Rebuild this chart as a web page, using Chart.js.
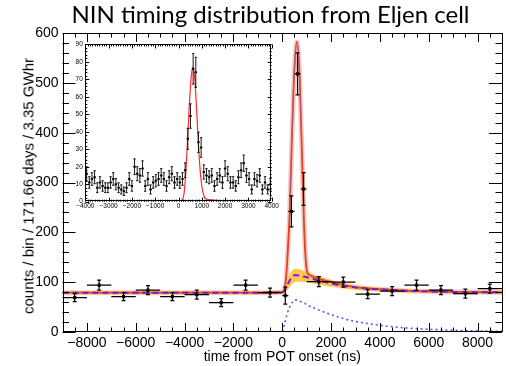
<!DOCTYPE html>
<html>
<head>
<meta charset="utf-8">
<script src="https://cdn.jsdelivr.net/npm/chart.js"></script>
<style>
  html, body { margin: 0; padding: 0; background: #fff; }
  #wrap { position: relative; width: 506px; height: 366px; overflow: hidden; }
  #main { position: absolute; left: 0; top: 0; }
  #inset { position: absolute; left: 66px; top: 38px; }
  #title { position: absolute; left: 0; top: 2px; width: 541px; text-align: center;
           font: 24px/24px Lato, sans-serif; color: #000; white-space: nowrap; }
  #ytitle { position: absolute; left: 28px; top: 186px; white-space: nowrap; color: #000;
            font: 15px/15px "Liberation Sans", sans-serif;
            transform: translate(-50%, -50%) rotate(-90deg); }
</style>
</head>
<body>
<div id="wrap">
  <canvas id="main" width="506" height="366"></canvas>
  <canvas id="inset" width="214" height="178"></canvas>
  <div id="title">NIN timing distribution from Eljen cell</div>
  <div id="ytitle">counts / bin / 171.66 days / 3.35 GWhr</div>
</div>
<script>
// ---- main histogram (ns, counts / bin) ----
const binCenters = [-8500, -7500, -6500, -5500, -4500, -3500, -2500, -1500, -500,
                    125, 375, 625, 875, 1500, 2500, 3500, 4500, 5500, 6500, 7500, 8500];
const binHalfWidths = [500, 500, 500, 500, 500, 500, 500, 500, 500,
                       125, 125, 125, 125, 500, 500, 500, 500, 500, 500, 500, 500];
const counts = [69, 94, 71, 84, 71, 75, 59, 94, 79, 73, 242, 518, 287, 101, 100, 76, 82, 94, 84, 77, 87];
const countErrors = [8, 10, 8, 9, 8, 9, 8, 10, 9, 17, 31, 42, 33, 10, 10, 9, 9, 10, 9, 9, 9];

// ---- fit curves ----
const fitTimes    = [-9000, -1000, 0, 100, 150, 200, 300, 400, 500, 600, 700, 800, 900, 1000,
                     1100, 1200, 1500, 2000, 2500, 3000, 3500, 4000, 5000, 6000, 7000, 8000, 9000];
const fitTotal    = [79, 79, 80, 88, 105, 140, 235, 395, 530, 582, 525, 370, 205, 125,
                     115, 112, 107, 100, 94, 90, 87.5, 86, 83, 81.5, 80.5, 80, 79.5];
const fitDelayed  = [79, 79, 79.5, 84, 89, 94, 103, 110, 114, 114, 113, 112, 111, 110,
                     108.5, 107, 103, 97.5, 92.5, 89.5, 87, 85.5, 83, 81.5, 80.5, 80, 79.5];
const bandLow     = [76, 76, 76.5, 79, 81, 84, 90, 96, 100, 101, 101, 101, 100, 100,
                     99, 98, 95, 91, 87.5, 85, 83, 82, 80, 78.5, 77.5, 77, 76.5];
const bandHigh    = [82, 82, 82.5, 89, 97, 104, 116, 123, 127, 127, 126, 124, 122, 120,
                     118, 116, 111, 104, 97.5, 94, 91, 89, 86, 84.5, 83.5, 83, 82.5];
const delayedOnly = [0, 0, 0, 18, 27, 36, 50, 59, 64, 64, 62, 60, 58, 55,
                     52, 50, 44, 35, 27, 21, 17, 13.5, 8.5, 5.5, 3.5, 2.2, 1.4];

// ---- inset (fine binning) ----
const insetCenters = [-3943, -3829, -3714, -3600, -3486, -3371, -3257, -3143, -3029, -2914,
                      -2800, -2686, -2571, -2457, -2343, -2229, -2114, -2000, -1886, -1771,
                      -1657, -1543, -1429, -1314, -1200, -1086, -971, -857, -743, -629,
                      -514, -400, -286, -171, -57, 57, 171, 286, 400, 514,
                      629, 743, 857, 971, 1086, 1200, 1314, 1429, 1543, 1657,
                      1771, 1886, 2000, 2114, 2229, 2343, 2457, 2571, 2686, 2800,
                      2914, 3029, 3143, 3257, 3371, 3486, 3600, 3714, 3829, 3943];
const insetCounts = [16, 11, 13, 14, 8, 11, 9, 8, 8, 11,
                     13, 10, 8, 7, 6, 8, 13, 9, 20, 16,
                     15, 19, 9, 13, 7, 11, 12, 13, 15, 13,
                     9, 14, 16, 11, 13, 11, 13, 18, 36, 49,
                     76, 74, 34, 31, 17, 15, 14, 15, 9, 13,
                     15, 11, 19, 16, 11, 11, 9, 14, 18, 22,
                     15, 13, 7, 13, 12, 15, 7, 11, 7, 10];
const insetErrors = [4, 3.3, 3.6, 3.7, 2.8, 3.3, 3, 2.8, 2.8, 3.3,
                     3.6, 3.2, 2.8, 2.6, 2.4, 2.8, 3.6, 3, 4.5, 4,
                     3.9, 4.4, 3, 3.6, 2.6, 3.3, 3.5, 3.6, 3.9, 3.6,
                     3, 3.7, 4, 3.3, 3.6, 3.3, 3.6, 4.2, 6, 7,
                     8.7, 8.6, 5.8, 5.6, 4.1, 3.9, 3.7, 3.9, 3, 3.6,
                     3.9, 3.3, 4.4, 4, 3.3, 3.3, 3, 3.7, 4.2, 4.7,
                     3.9, 3.6, 2.6, 3.6, 3.5, 3.9, 2.6, 3.3, 2.6, 3.2];
const insetFitTimes = [150, 250, 350, 450, 550, 620, 700, 800, 900, 1000, 1100, 1200, 1400, 1700, 2000];
const insetFit      = [0, 6, 25, 52, 72, 77, 70, 47, 23, 9, 3, 1.5, 1, 0.7, 0.5];

const mainXTicks = [-8000, -6000, -4000, -2000, 0, 2000, 4000, 6000, 8000];
const insetXTicks = [-4000, -3000, -2000, -1000, 0, 1000, 2000, 3000, 4000];

const FONT = 'Liberation Sans';
const fmt = v => (v < 0 ? '\u2212' + Math.abs(v) : String(v));
const pts = (xs, ys) => xs.map((x, i) => ({ x: x, y: ys[i] }));

function steps(from, to, step, skip) {
  const out = [];
  for (let v = from; v <= to + 1e-9; v += step) {
    if (!skip || Math.abs(v % skip) > 1e-9) out.push(v);
  }
  return out;
}

// ROOT-like frame with inward ticks on all four sides
const rootFrame = {
  id: 'rootFrame',
  beforeDraw(chart, args, o) {
    if (!o.fillArea) return;
    const a = chart.chartArea;
    chart.ctx.save();
    chart.ctx.fillStyle = '#fff';
    chart.ctx.fillRect(a.left, a.top, a.right - a.left, a.bottom - a.top);
    chart.ctx.restore();
  },
  afterDatasetsDraw(chart, args, o) {
    const { ctx, chartArea: a, scales: { x, y } } = chart;
    ctx.save();
    ctx.strokeStyle = '#000';
    ctx.lineWidth = 1;
    ctx.beginPath();
    const xt = (vals, len) => vals.forEach(v => {
      const px = Math.round(x.getPixelForValue(v)) + 0.5;
      ctx.moveTo(px, a.bottom); ctx.lineTo(px, a.bottom - len);
      ctx.moveTo(px, a.top); ctx.lineTo(px, a.top + len);
    });
    const yt = (vals, len) => vals.forEach(v => {
      const py = Math.round(y.getPixelForValue(v)) + 0.5;
      ctx.moveTo(a.left, py); ctx.lineTo(a.left + len, py);
      ctx.moveTo(a.right, py); ctx.lineTo(a.right - len, py);
    });
    xt(o.xMajor, o.xLen); xt(o.xMinor, o.xLen / 2);
    yt(o.yMajor, o.yLen); yt(o.yMinor, o.yLen / 2);
    ctx.stroke();
    ctx.strokeRect(Math.round(a.left) + 0.5, Math.round(a.top) + 0.5,
                   Math.round(a.right - a.left) - 1, Math.round(a.bottom - a.top) - 1);
    ctx.restore();
  }
};

const errorBars = {
  id: 'errorBars',
  afterDatasetsDraw(chart, args, o) {
    const { ctx, scales: { x, y } } = chart;
    ctx.save();
    ctx.strokeStyle = '#000';
    ctx.lineWidth = o.lineWidth;
    ctx.beginPath();
    chart.data.datasets.forEach(ds => {
      if (!ds.withErrors) return;
      ds.data.forEach(p => {
        const px = x.getPixelForValue(p.x), py = y.getPixelForValue(p.y);
        const x0 = x.getPixelForValue(p.x - p.ex), x1 = x.getPixelForValue(p.x + p.ex);
        const y0 = y.getPixelForValue(Math.max(p.y - p.ey, 0)), y1 = y.getPixelForValue(p.y + p.ey);
        ctx.moveTo(x0, py); ctx.lineTo(x1, py);
        ctx.moveTo(px, y0); ctx.lineTo(px, y1);
        ctx.moveTo(px - o.cap, y0); ctx.lineTo(px + o.cap, y0);
        ctx.moveTo(px - o.cap, y1); ctx.lineTo(px + o.cap, y1);
      });
    });
    ctx.stroke();
    ctx.restore();
  }
};

function curve(xs, ys, color, width, dash, order) {
  return {
    data: pts(xs, ys), showLine: true, pointRadius: 0, borderColor: color,
    borderWidth: width, borderDash: dash || [], cubicInterpolationMode: 'monotone', order: order
  };
}

const mainData = binCenters.map((x, i) => ({ x: x, y: counts[i], ex: binHalfWidths[i], ey: countErrors[i] }));

new Chart(document.getElementById('main'), {
  type: 'scatter',
  data: {
    datasets: [
      curve(fitTimes, fitTotal, 'rgba(246,140,120,0.45)', 5, null, 8),
      curve(fitTimes, bandLow, 'rgba(0,0,0,0)', 0, null, 7),
      Object.assign(curve(fitTimes, bandHigh, 'rgba(0,0,0,0)', 0, null, 6),
                    { fill: { target: 1 }, backgroundColor: 'rgba(255,188,50,0.85)' }),
      curve(fitTimes, fitTotal, '#e2412b', 1.8, null, 4),
      // faint blue core inside the prompt peak
      curve(fitTimes.slice(6, 12), fitTotal.slice(6, 12), 'rgba(110,120,230,0.45)', 1, null, 3),
      curve(fitTimes, fitDelayed, '#6a1fd8', 2, [6, 4], 2),
      curve(fitTimes, delayedOnly, '#4b5cff', 1.6, [2, 3], 1),
      {
        data: mainData, withErrors: true, showLine: false, order: 0,
        pointStyle: 'rect', pointRadius: 2.2, backgroundColor: '#000', borderColor: '#000', borderWidth: 0
      }
    ]
  },
  options: {
    responsive: false, animation: false, events: [],
    layout: { padding: { left: 0.5, top: 33, right: 4, bottom: 0 } },
    plugins: {
      legend: { display: false }, tooltip: { enabled: false },
      filler: { drawTime: 'beforeDatasetDraw' },
      rootFrame: { xMajor: mainXTicks, xMinor: steps(-9000, 9000, 500, 2000), xLen: 9,
                   yMajor: steps(0, 600, 100), yMinor: steps(0, 600, 20, 100), yLen: 13 },
      errorBars: { lineWidth: 1.2, cap: 2 }
    },
    scales: {
      x: {
        type: 'linear', min: -9000, max: 9000,
        grid: { display: false, drawTicks: false }, border: { display: false },
        afterBuildTicks: s => { s.ticks = mainXTicks.map(v => ({ value: v })); },
        afterFit: s => { s.height = 34; },
        ticks: { color: '#000', font: { family: FONT, size: 14 }, padding: 3, maxRotation: 0, callback: fmt },
        title: { display: true, text: 'time from POT onset (ns)', color: '#000',
                 font: { family: FONT, size: 14 }, padding: { top: 0, bottom: 0 } }
      },
      y: {
        type: 'linear', min: 0, max: 600,
        grid: { display: false, drawTicks: false }, border: { display: false },
        afterFit: s => { s.width = 62; },
        ticks: { stepSize: 100, color: '#000', font: { family: FONT, size: 14 }, padding: 4, callback: fmt }
      }
    }
  },
  plugins: [rootFrame, errorBars]
});

const insetData = insetCenters.map((x, i) => ({ x: x, y: insetCounts[i], ex: 57, ey: insetErrors[i] }));

new Chart(document.getElementById('inset'), {
  type: 'scatter',
  data: {
    datasets: [
      {
        data: pts(insetFitTimes, insetFit), showLine: true, pointRadius: 0, borderColor: '#ff2a2a',
        borderWidth: 1.2, cubicInterpolationMode: 'monotone', order: 1
      },
      {
        data: insetData, withErrors: true, showLine: false, order: 0,
        pointStyle: 'rect', pointRadius: 1.4, backgroundColor: '#000', borderColor: '#000', borderWidth: 0
      }
    ]
  },
  options: {
    responsive: false, animation: false, events: [],
    layout: { padding: { left: 0.3, top: 4.7, right: 8.3, bottom: 0 } },
    plugins: {
      legend: { display: false }, tooltip: { enabled: false },
      rootFrame: { fillArea: true, xMajor: insetXTicks, xMinor: steps(-4000, 4000, 100, 1000), xLen: 4,
                   yMajor: steps(0, 90, 10), yMinor: steps(0, 90, 2, 10), yLen: 4 },
      errorBars: { lineWidth: 0.9, cap: 1.2 }
    },
    scales: {
      x: {
        type: 'linear', min: -4000, max: 4000,
        grid: { display: false, drawTicks: false }, border: { display: false },
        afterBuildTicks: s => { s.ticks = insetXTicks.map(v => ({ value: v })); },
        afterFit: s => { s.height = 14.3; },
        ticks: { color: '#000', font: { family: FONT, size: 6.5 }, padding: 1, maxRotation: 0,
                 autoSkip: false, callback: fmt }
      },
      y: {
        type: 'linear', min: 0, max: 90,
        grid: { display: false, drawTicks: false }, border: { display: false },
        afterFit: s => { s.width = 19; },
        ticks: { stepSize: 10, color: '#000', font: { family: FONT, size: 6.5 }, padding: 2.5, callback: fmt }
      }
    }
  },
  plugins: [rootFrame, errorBars]
});
</script>
</body>
</html>
